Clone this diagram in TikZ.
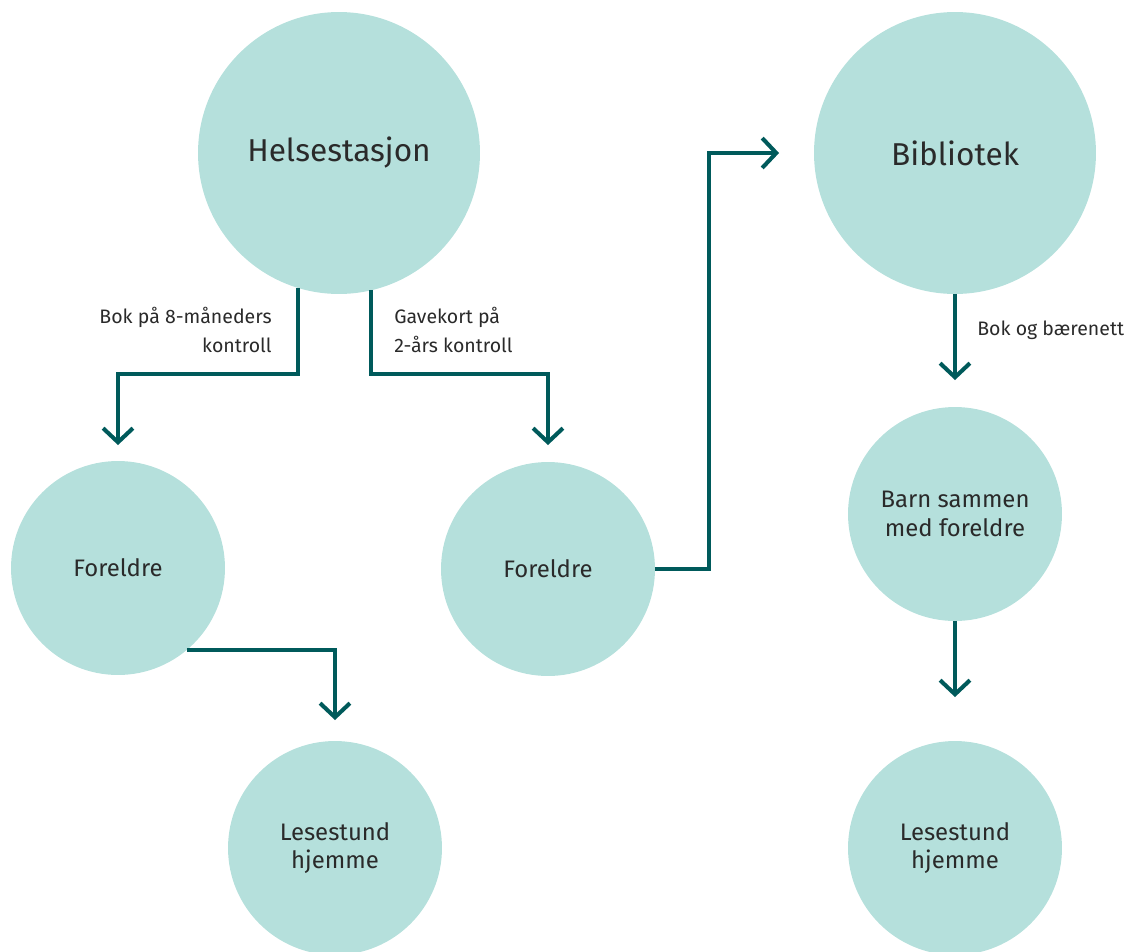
\documentclass[tikz,border=0pt]{standalone}
\usepackage{fontspec}
\setmainfont{Fira Sans}
\usetikzlibrary{arrows.meta}
\definecolor{mint}{HTML}{B5E0DC}
\definecolor{petrol}{HTML}{005A5B}
\definecolor{ink}{HTML}{2A2A2A}
\tikzset{
	bigcircle/.style={circle,fill=mint,inner sep=0,outer sep=0,minimum size=5.64cm,text=ink,font=\fontsize{18}{21}\selectfont},
	smallcircle/.style={circle,fill=mint,inner sep=0,outer sep=0,minimum size=4.28cm,text=ink,align=center,font=\fontsize{13.6}{16.4}\selectfont},
	flow/.style={draw=petrol,line width=2.3pt,-{Straight Barb[length=8pt,width=17pt,line width=2.3pt]}},
	note/.style={text=ink,inner sep=0,font=\fontsize{11.1}{17}\selectfont}
}

\begin{document}
\begin{tikzpicture}[x=0.02cm,y=-0.02cm]
	\useasboundingbox (0,0) rectangle (1137,951);
	\clip (0,0) rectangle (1137,951);
	\node[bigcircle] (1) at (339,153) {Helsestasjon};
	\node[bigcircle] (2) at (955,153) {Bibliotek};
	\node[smallcircle] (3) at (118,568) {Foreldre};
	\node[smallcircle] (4) at (548,569) {Foreldre};
	\node[smallcircle] (5) at (335,848) {Lesestund\\hjemme};
	\node[smallcircle] (6) at (955,514) {Barn sammen\\med foreldre};
	\node[smallcircle] (7) at (955,848) {Lesestund\\hjemme};
	\draw[flow] (1.253) |- (200,374) -| ([yshift=0.32cm]3.north);
	\draw[flow] (1.283) |- (450,374) -| ([yshift=0.34cm]4.north);
	\draw[flow] (4.east) -| ([xshift=-2.1cm]2.west) -- ([xshift=-0.7cm]2.west);
	\draw[flow] (3.-50) -| ([yshift=0.42cm]5.north);
	\draw[flow] (2.south) -- ([yshift=0.54cm]6.north);
	\draw[flow] (6.south) -- ([yshift=0.88cm]7.north);
	\node[note,align=right,anchor=east] (8) at (272,330) {Bok på 8-måneders\\kontroll};
	\node[note,align=left,anchor=west] (9) at (394,330) {Gavekort på\\2-års kontroll};
	\node[note,anchor=west] (10) at (977,330) {Bok og bærenett};
\end{tikzpicture}
\end{document}
